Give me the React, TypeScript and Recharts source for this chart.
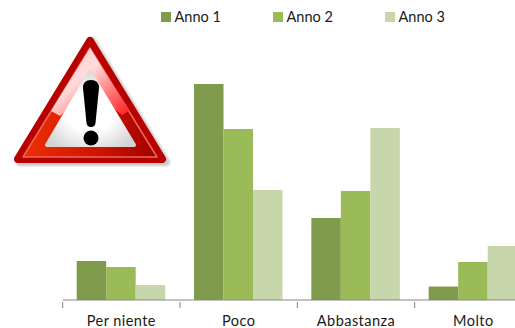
import React from 'react';
import { BarChart, Bar, XAxis, YAxis, Legend } from 'recharts';

const categories = ['Per niente', 'Poco', 'Abbastanza', 'Molto'];
const anno1 = [7.8, 43.2, 16.4, 2.7];
const anno2 = [6.6, 34.2, 21.8, 7.6];
const anno3 = [3.0, 22.0, 34.4, 10.8];
const seriesNames = ['Anno 1', 'Anno 2', 'Anno 3'];
const seriesColors = ['#7f9b4b', '#9bbb59', '#c8d6ab'];

const rows = categories.map((name, i) => ({
  name,
  'Anno 1': anno1[i],
  'Anno 2': anno2[i],
  'Anno 3': anno3[i],
}));

const FONT = 'Lato, sans-serif';
const BAND = 117.33;

// Axis tick: mark sits on the category boundary, label stays centred
function CategoryTick({ x, y, payload }: any) {
  return (
    <g>
      <line x1={x - BAND / 2} x2={x - BAND / 2} y1={y} y2={y + 6} stroke="#868686" strokeWidth={1} />
      <text x={x} y={y + 23.6} textAnchor="middle" fontFamily={FONT} fontSize={14.5} letterSpacing={0.45} fill="#1a1a1a">
        {payload.value}
      </text>
    </g>
  );
}

function LegendRow() {
  return (
    <div style={{ position: 'relative', height: 24, fontFamily: FONT, fontSize: 14.5, color: '#1a1a1a' }}>
      {seriesNames.map((name, i) => (
        <div key={name} style={{ position: 'absolute', left: 161 + i * 112, top: 0, display: 'flex', alignItems: 'center' }}>
          <span style={{ width: 10, height: 10, marginRight: 3.5, background: seriesColors[i], display: 'block' }} />
          <span style={{ lineHeight: '18px' }}>{name}</span>
        </div>
      ))}
    </div>
  );
}

// Warning sign laid over the top-left corner of the plot
function WarningSign() {
  return (
    <svg width={190} height={180} style={{ position: 'absolute', left: 0, top: 20 }}>
      <defs>
        <linearGradient id="band" x1="0" y1="0" x2="1" y2="0">
          <stop offset="0%" stopColor="#ee3000" />
          <stop offset="60%" stopColor="#cc1200" />
          <stop offset="100%" stopColor="#a00000" />
        </linearGradient>
        <linearGradient id="gloss" x1="0.1" y1="0" x2="1" y2="0.9">
          <stop offset="0%" stopColor="#ffc8c8" />
          <stop offset="40%" stopColor="#ffdcdc" />
          <stop offset="70%" stopColor="#ff8080" />
          <stop offset="100%" stopColor="#ff2a2a" />
        </linearGradient>
        <radialGradient id="plate" cx="0.5" cy="0.55" r="0.6">
          <stop offset="45%" stopColor="#ffffff" />
          <stop offset="100%" stopColor="#d4d4d4" />
        </radialGradient>
        <filter id="soft" x="-10%" y="-10%" width="120%" height="120%">
          <feGaussianBlur stdDeviation="1.2" />
        </filter>
      </defs>
      <path d="M92 21 L166 142 H20 Z" fill="#8a8a8a" opacity={0.45} stroke="#8a8a8a" strokeWidth={8} strokeLinejoin="round" filter="url(#soft)" />
      <path d="M90 21 L162 139 H18 Z" fill="#c40a0a" stroke="#b80000" strokeWidth={8} strokeLinejoin="round" />
      <path d="M90 28 L157 137 H23 Z" fill="url(#band)" stroke="#e96a5c" strokeWidth={1.5} strokeLinejoin="round" />
      <path d="M90 28 L129 91 L122 95 L90 70 L60 96 L51 91 Z" fill="url(#gloss)" />
      <path d="M90 52 L134 125 H47 Z" fill="url(#plate)" stroke="url(#plate)" strokeWidth={4} strokeLinejoin="round" />
      <path d="M83 68 Q83 60 91 60 Q99 60 99 68 L95.5 103 Q95 107 91 107 Q87 107 86.5 103 Z" fill="#000" />
      <circle cx={91} cy={118} r={7.5} fill="#000" />
    </svg>
  );
}

export default function App() {
  return (
    <div style={{ position: 'fixed', left: 0, top: 0, width: 515, height: 328, overflow: 'hidden', background: '#fff' }}>
      <BarChart
        width={533}
        height={328}
        data={rows}
        barGap={0}
        barSize={29.5}
        margin={{ top: 50, right: 1, bottom: 0, left: 62.7 }}
      >
        <XAxis
          dataKey="name"
          height={28}
          tick={<CategoryTick />}
          tickLine={false}
          tickSize={0}
          interval={0}
          stroke="#868686"
        />
        <YAxis hide domain={[0, 50]} />
        <Legend verticalAlign="middle" wrapperStyle={{ top: 8, left: 0, width: 515 }} content={<LegendRow />} />
        <Bar dataKey="Anno 1" fill={seriesColors[0]} isAnimationActive={false} />
        <Bar dataKey="Anno 2" fill={seriesColors[1]} isAnimationActive={false} />
        <Bar dataKey="Anno 3" fill={seriesColors[2]} isAnimationActive={false} />
      </BarChart>
      <WarningSign />
    </div>
  );
}
